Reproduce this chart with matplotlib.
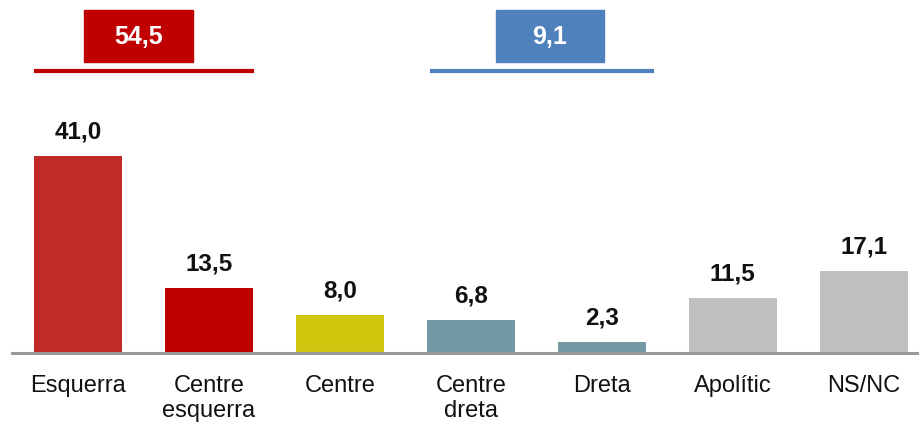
import matplotlib
matplotlib.use("Agg")
from matplotlib import pyplot as plt
from matplotlib.patches import Rectangle
from matplotlib.lines import Line2D
import numpy as np

categories = ["Esquerra", "Centre\nesquerra", "Centre", "Centre\ndreta", "Dreta", "Apolític", "NS/NC"]
values = [41.0, 13.5, 8.0, 6.8, 2.3, 11.5, 17.1]
colors = ["#C12A26", "#C00000", "#D3C60F", "#7499A4", "#7499A4", "#C0C0C0", "#C0C0C0"]

group_values = [54.5, 9.1]
group_colors = ["#C00000", "#4F81BD"]
group_lines = ["#C00000", "#4F81BD"]

plt.rcParams['font.family'] = ['Liberation Sans', 'DejaVu Sans']

W, H = 920, 422
fig = plt.figure(figsize=(W / 100, H / 100), dpi=100)
ax = fig.add_axes([12 / W, (H - 353) / H, (W - 12) / W, 243 / H])

x = np.arange(len(values))
ax.bar(x, values, width=0.672, color=colors)
for xi, v in zip(x, values):
    ax.text(xi, v + 2.6, f"{v:.1f}".replace(".", ","), ha="center", va="bottom",
            fontsize=17.5, fontweight="bold", color="#111111")

ax.set_xlim(-0.504, 6.43)
ax.set_ylim(0, 50.6)
ax.set_yticks([])
ax.set_xticks(x)
ax.set_xticklabels(categories, fontsize=17, linespacing=1.15, color="#111111")
ax.tick_params(axis="x", length=0, pad=16)
for s in ["top", "right", "left"]:
    ax.spines[s].set_visible(False)
ax.spines["bottom"].set_color("#999999")
ax.spines["bottom"].set_linewidth(2.2)

# group boxes and underlines (figure pixel coords)
boxes = [(84, 193), (496, 604)]
lines = [(36, 252), (432, 652)]
for (b0, b1), (l0, l1), val, bc, lc in zip(boxes, lines, group_values, group_colors, group_lines):
    fig.patches.append(Rectangle((b0 / W, (H - 62) / H), (b1 - b0) / W, 52 / H,
                                 transform=fig.transFigure, color=bc))
    fig.text((b0 + b1) / 2 / W, (H - 37) / H, f"{val:.1f}".replace(".", ","),
             ha="center", va="center", color="white", fontsize=18, fontweight="bold")
    fig.lines.append(Line2D([l0 / W, l1 / W], [(H - 71) / H] * 2,
                            transform=fig.transFigure, color=lc, linewidth=3))

plt.savefig("out.png", dpi=100)
